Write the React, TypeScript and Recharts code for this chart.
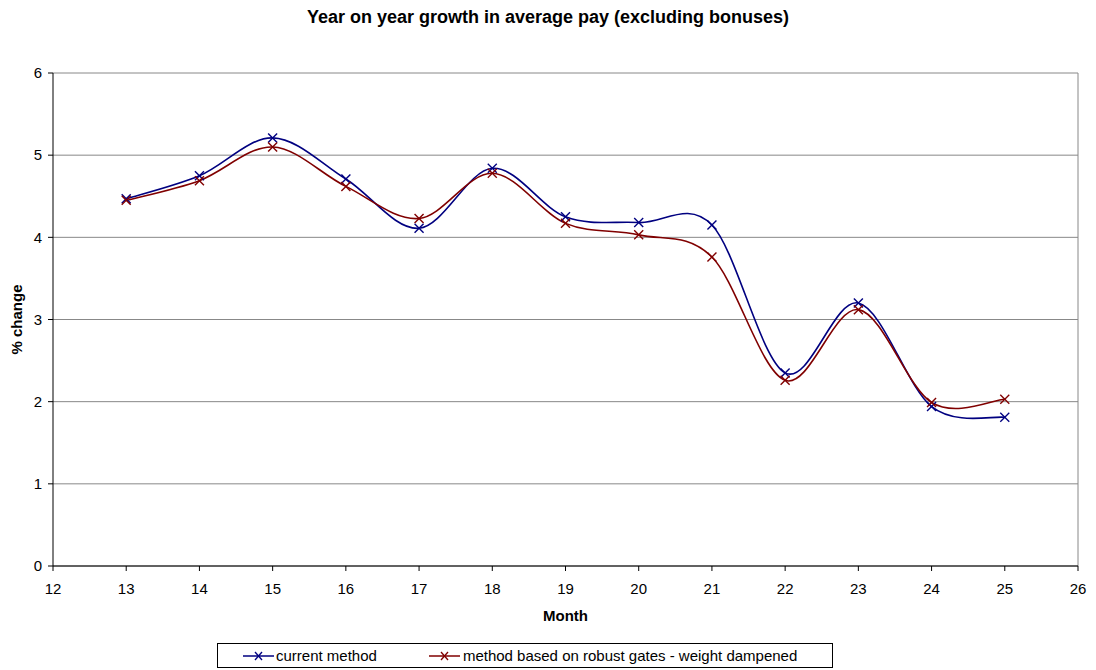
import React from 'react';
import { LineChart, Line, XAxis, YAxis, CartesianGrid, ReferenceLine } from 'recharts';

const months = [13, 14, 15, 16, 17, 18, 19, 20, 21, 22, 23, 24, 25];
const currentMethod = [4.47, 4.75, 5.21, 4.71, 4.11, 4.84, 4.25, 4.18, 4.15, 2.35, 3.2, 1.94, 1.81];
const robustGates = [4.45, 4.69, 5.1, 4.62, 4.23, 4.78, 4.17, 4.03, 3.76, 2.26, 3.12, 1.99, 2.03];
const xTicks = [12, 13, 14, 15, 16, 17, 18, 19, 20, 21, 22, 23, 24, 25, 26];
const yTicks = [0, 1, 2, 3, 4, 5, 6];

const data = months.map((m, i) => ({
  month: m,
  current: currentMethod[i],
  robust: robustGates[i],
}));

const FONT = '"Liberation Sans", Arial, sans-serif';
const BLUE = '#000080';
const RED = '#800000';

// Excel-style smoothing: Catmull-Rom converted to cubic beziers
function excelSmooth(context: any) {
  let pts: number[][] = [];
  return {
    areaStart() {},
    areaEnd() {},
    lineStart() { pts = []; },
    point(x: number, y: number) { pts.push([+x, +y]); },
    lineEnd() {
      if (!pts.length) return;
      context.moveTo(pts[0][0], pts[0][1]);
      for (let i = 0; i < pts.length - 1; i++) {
        const p0 = pts[Math.max(i - 1, 0)];
        const p1 = pts[i];
        const p2 = pts[i + 1];
        const p3 = pts[Math.min(i + 2, pts.length - 1)];
        context.bezierCurveTo(
          p1[0] + (p2[0] - p0[0]) / 6, p1[1] + (p2[1] - p0[1]) / 6,
          p2[0] - (p3[0] - p1[0]) / 6, p2[1] - (p3[1] - p1[1]) / 6,
          p2[0], p2[1]
        );
      }
    },
  };
}

const crossDot = (color: string) => (props: any) => {
  const { cx, cy, index } = props;
  if (cx == null || cy == null) return <g key={index} />;
  const s = 4.5;
  return (
    <g key={index}>
      <line x1={cx - s} y1={cy - s} x2={cx + s} y2={cy + s} stroke={color} strokeWidth={1.4} />
      <line x1={cx - s} y1={cy + s} x2={cx + s} y2={cy - s} stroke={color} strokeWidth={1.4} />
    </g>
  );
};

const LegendMark = ({ color }: { color: string }) => (
  <svg width={31} height={12} style={{ display: 'block' }}>
    <line x1={0} y1={6} x2={31} y2={6} stroke={color} strokeWidth={1.5} />
    <line x1={12} y1={2} x2={19} y2={10} stroke={color} strokeWidth={1.3} />
    <line x1={12} y1={10} x2={19} y2={2} stroke={color} strokeWidth={1.3} />
  </svg>
);

export default function App() {
  return (
    <div style={{ position: 'absolute', left: 0, top: 0, width: 1096, height: 670, background: '#fff', fontFamily: FONT }}>
      <div style={{ position: 'absolute', left: 0, width: 1096, top: 6, textAlign: 'center', fontSize: 18, fontWeight: 'bold', lineHeight: '22px' }}>
        Year on year growth in average pay (excluding bonuses)
      </div>
      <LineChart
        width={1096}
        height={670}
        data={data}
        margin={{ top: 73, right: 18, bottom: 74, left: 13 }}
      >
        <CartesianGrid vertical={false} stroke="#888" strokeWidth={1} />
        <ReferenceLine x={26} stroke="#888" strokeWidth={1} />
        <XAxis
          dataKey="month"
          type="number"
          domain={[12, 26]}
          ticks={xTicks}
          interval={0}
          height={30}
          stroke="#000"
          tickSize={5}
          tickMargin={12}
          tick={{ fill: '#000', fontSize: 15, fontFamily: FONT }}
          label={{ value: 'Month', position: 'insideBottom', offset: -25, fill: '#000', fontSize: 15, fontWeight: 'bold', fontFamily: FONT }}
        />
        <YAxis
          type="number"
          domain={[0, 6]}
          ticks={yTicks}
          interval={0}
          width={40}
          stroke="#000"
          tickSize={5}
          tickMargin={6}
          tick={{ fill: '#000', fontSize: 15, fontFamily: FONT }}
          label={{ value: '% change', angle: -90, position: 'insideLeft', offset: 4, fill: '#000', fontSize: 15, fontWeight: 'bold', fontFamily: FONT, style: { textAnchor: 'middle' } }}
        />
        <Line
          dataKey="current"
          type={excelSmooth as any}
          stroke={BLUE}
          strokeWidth={1.6}
          dot={crossDot(BLUE)}
          activeDot={false}
          isAnimationActive={false}
        />
        <Line
          dataKey="robust"
          type={excelSmooth as any}
          stroke={RED}
          strokeWidth={1.6}
          dot={crossDot(RED)}
          activeDot={false}
          isAnimationActive={false}
        />
      </LineChart>
      <div
        style={{
          position: 'absolute', left: 217, top: 643, width: 614, height: 23,
          border: '1px solid #000', display: 'flex', alignItems: 'center',
          fontSize: 15, boxSizing: 'content-box', whiteSpace: 'nowrap',
        }}
      >
        <span style={{ marginLeft: 25, display: 'flex', alignItems: 'center' }}>
          <LegendMark color={BLUE} /><span style={{ marginLeft: 2 }}>current method</span>
        </span>
        <span style={{ marginLeft: 52, display: 'flex', alignItems: 'center' }}>
          <LegendMark color={RED} /><span style={{ marginLeft: 3 }}>method based on robust gates - weight dampened</span>
        </span>
      </div>
    </div>
  );
}
